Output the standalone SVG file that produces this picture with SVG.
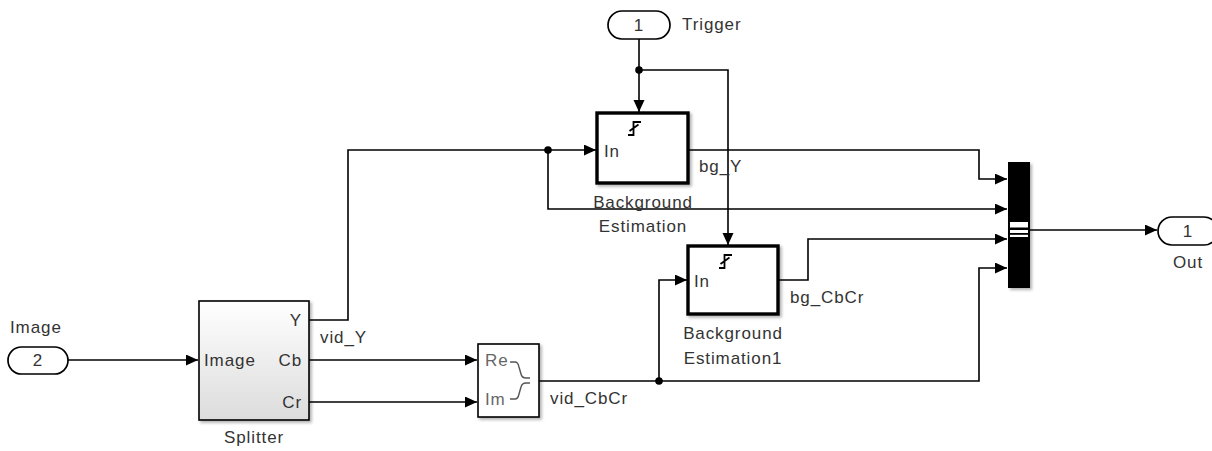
<svg xmlns="http://www.w3.org/2000/svg" width="1212" height="451" viewBox="0 0 1212 451">
<defs>
<style>
.t{font-family:"Liberation Sans",Arial,sans-serif;font-size:17px;fill:#333;letter-spacing:0.9px}
.c{text-anchor:middle}
.r{text-anchor:end}
.g{fill:#666}
.w{fill:none;stroke:#000;stroke-width:1.6}
.blk{fill:#fff;stroke:#000;stroke-width:1.6}
.thick{fill:#fff;stroke:#000;stroke-width:3.4}
.pill{fill:#fff;stroke:#000;stroke-width:1.7}
.trg{fill:none;stroke:#000;stroke-width:1.8}
</style>
<marker id="a" markerUnits="userSpaceOnUse" markerWidth="14" markerHeight="12" refX="12" refY="5.5" orient="auto">
<path d="M0,0 L12,5.5 L0,11 z" fill="#000"/>
</marker>
<linearGradient id="gr" x1="0" y1="0" x2="0" y2="1">
<stop offset="0" stop-color="#ffffff"/>
<stop offset="1" stop-color="#dcdcdc"/>
</linearGradient>
<filter id="sh" x="-20%" y="-20%" width="150%" height="150%">
<feDropShadow dx="2" dy="2" stdDeviation="1.8" flood-color="#000" flood-opacity="0.3"/>
</filter>
</defs>
<rect width="1212" height="451" fill="#fff"/>

<g id="connectors">
<path class="w" d="M639,39 V112" marker-end="url(#a)"/>
<path class="w" d="M639,70 H728 V245" marker-end="url(#a)"/>
<path class="w" d="M68,360 H198" marker-end="url(#a)"/>
<path class="w" d="M309,320 H348 V150 H596" marker-end="url(#a)"/>
<path class="w" d="M548,150 V209 H1007" marker-end="url(#a)"/>
<path class="w" d="M688,150 H979 V179 H1007" marker-end="url(#a)"/>
<path class="w" d="M778,280 H808 V239 H1007" marker-end="url(#a)"/>
<path class="w" d="M309,360 H477" marker-end="url(#a)"/>
<path class="w" d="M309,402 H477" marker-end="url(#a)"/>
<path class="w" d="M539,381 H979 V268 H1007" marker-end="url(#a)"/>
<path class="w" d="M659,381 V280 H687" marker-end="url(#a)"/>
<path class="w" d="M1030,230 H1157" marker-end="url(#a)"/>
<circle cx="639" cy="70" r="3.8" fill="#000"/>
<circle cx="548" cy="150" r="3.8" fill="#000"/>
<circle cx="659" cy="381" r="3.8" fill="#000"/>
<text class="t" x="699" y="172">bg_Y</text>
<text class="t" x="790" y="303">bg_CbCr</text>
<text class="t" x="320" y="343">vid_Y</text>
<text class="t" x="550" y="404">vid_CbCr</text>
</g>

<g id="trigger">
<rect class="pill" x="608" y="11" width="62" height="28" rx="14"/>
<text class="t c" x="639" y="31">1</text>
<text class="t" x="682" y="30">Trigger</text>
</g>

<g id="image">
<rect class="pill" x="8" y="347" width="60" height="27" rx="13.5"/>
<text class="t c" x="38" y="366">2</text>
<text class="t" x="10" y="333">Image</text>
</g>

<g id="background-estimation">
<rect class="thick" x="597" y="113" width="91" height="70" filter="url(#sh)"/>
<path class="trg" d="M628,135 H633.5 V122 H641 M629.5,131 L638.5,124.5"/>
<text class="t" x="604" y="157">In</text>
<text class="t c" x="643" y="208">Background</text>
<text class="t c" x="643" y="232">Estimation</text>
</g>

<g id="background-estimation1">
<rect class="thick" x="688" y="246" width="90" height="68" filter="url(#sh)"/>
<path class="trg" d="M719,268 H724.5 V255 H732 M720.5,264 L729.5,257.5"/>
<text class="t" x="694" y="287">In</text>
<text class="t c" x="733" y="339">Background</text>
<text class="t c" x="733" y="364">Estimation1</text>
</g>

<g id="splitter">
<rect x="199" y="301" width="110" height="119" fill="url(#gr)" stroke="#000" stroke-width="1.6" filter="url(#sh)"/>
<text class="t" x="204" y="366">Image</text>
<text class="t r" x="302" y="326">Y</text>
<text class="t r" x="302" y="366">Cb</text>
<text class="t r" x="302" y="408">Cr</text>
<text class="t c" x="254" y="443">Splitter</text>
</g>

<g id="real-imag-to-complex">
<rect class="blk" x="478" y="344" width="61" height="73" filter="url(#sh)"/>
<text class="t g" x="485" y="366">Re</text>
<text class="t g" x="485" y="405">Im</text>
<path d="M510,362 H515 Q518,362 519,367 L521,374 Q522,378 526,378 H530 M510,399 H515 Q518,399 519,394 L521,387 Q522,383 526,383 H530" fill="none" stroke="#555" stroke-width="1.4"/>
</g>

<g id="mux">
<rect x="1008" y="162" width="22" height="126" fill="#000" filter="url(#sh)"/>
<rect x="1010" y="222" width="18" height="15" fill="#fff"/>
<rect x="1010" y="227.5" width="18" height="2.5" fill="#000"/>
<rect x="1010" y="233" width="18" height="1.8" fill="#000"/>
</g>

<g id="out">
<rect class="pill" x="1158" y="217" width="60" height="28" rx="14"/>
<text class="t c" x="1188" y="237">1</text>
<text class="t c" x="1188" y="268">Out</text>
</g>
</svg>
